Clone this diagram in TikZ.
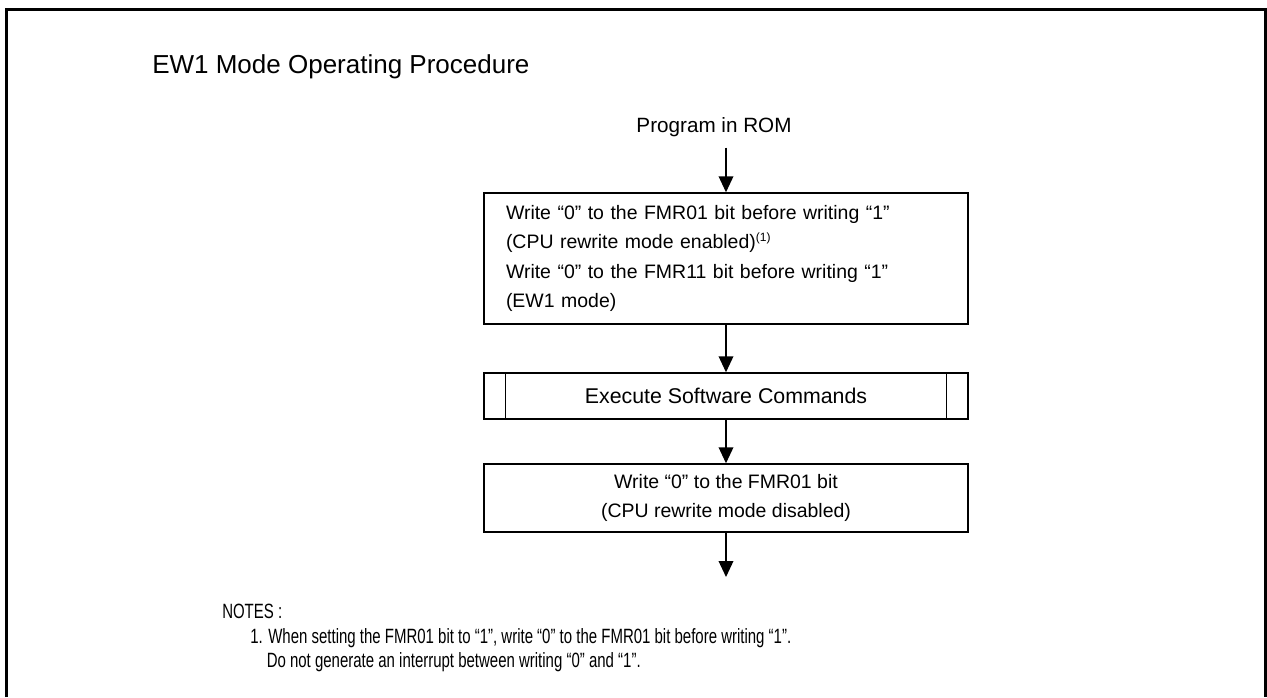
\documentclass[tikz,border=0pt]{standalone}
\usepackage{fontspec}
\setmainfont{Liberation Sans}
\newfontfamily\narrowfont[FakeStretch=0.725]{Liberation Sans}
\usetikzlibrary{arrows.meta,positioning}

\tikzset{
  stepbox/.style={draw, line width=1.1pt, minimum width=363pt, inner sep=0pt,
    font=\fontsize{14.6}{21.9}\selectfont},
  flow/.style={->, line width=1.1pt},
  notetext/.style={anchor=west, inner sep=0pt, font=\narrowfont\fontsize{15.5}{18}\selectfont}
}

\begin{document}
\begin{tikzpicture}[x=0.75pt, y=-0.75pt, >={Triangle[length=12pt,width=11pt]}]
\useasboundingbox (0,0) rectangle (1267,697);
% Outer frame, open at the bottom
\draw [line width=2.25pt] (6.5,697) -- (6.5,9.5) -- (1265,9.5) -- (1265,697);
% Title
\node [anchor=west, inner sep=0pt, font=\fontsize{19.5}{22}\selectfont] (title) at (152,67)
  {EW1 Mode Operating Procedure};
% The flow chart
\node [inner sep=0pt, font=\fontsize{15.5}{18}\selectfont] (rom) at (714,127) {Program in ROM};
\node [stepbox, minimum height=98.25pt, text width=330pt, align=left] (setup) at (726,258.5)
  {Write “0” to the FMR01 bit before writing “1”\\
   (CPU rewrite mode enabled)\textsuperscript{\fontsize{9}{9}\selectfont(1)}\\
   Write “0” to the FMR11 bit before writing “1”\\
   (EW1 mode)};
\node [stepbox, minimum height=34.5pt, font=\fontsize{16}{18}\selectfont] (cmds) at (726,396)
  {Execute Software Commands};
\draw [line width=1.1pt] ([xshift=16.5pt]cmds.north west) -- ([xshift=16.5pt]cmds.south west);
\draw [line width=1.1pt] ([xshift=-16.5pt]cmds.north east) -- ([xshift=-16.5pt]cmds.south east);
\node [stepbox, minimum height=51pt, align=center] (finish) at (726,498)
  {Write “0” to the FMR01 bit\\(CPU rewrite mode disabled)};
\coordinate (out) at (726,577);
% Connectors
\draw [flow, shorten <=8pt] (rom.south -| setup.north) -- (setup);
\draw [flow] (setup) -- (cmds);
\draw [flow] (cmds) -- (finish);
\draw [flow] (finish) -- (out);
% Notes
\node [notetext] (notes) at (222,611) {NOTES :};
\node [notetext] (note1) at (250,638)
  {1. When setting the FMR01 bit to “1”, write “0” to the FMR01 bit before writing “1”.};
\node [notetext] (note1b) at (266.5,662)
  {Do not generate an interrupt between writing “0” and “1”.};
\end{tikzpicture}
\end{document}
